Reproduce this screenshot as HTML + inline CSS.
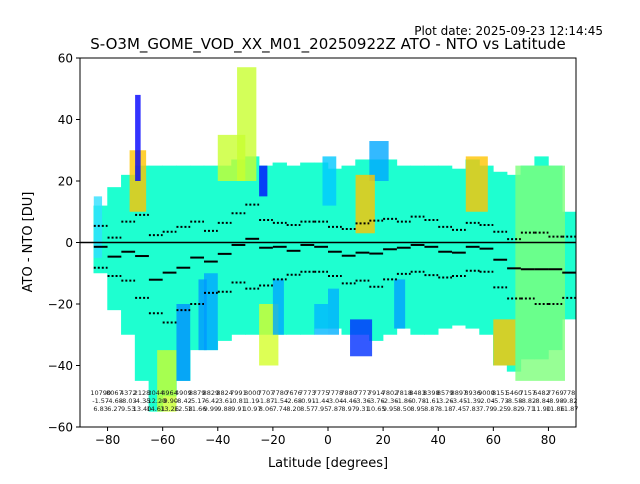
<!DOCTYPE html>
<html><head><meta charset="utf-8">
<style>
body{margin:0;background:#fff;width:640px;height:480px;overflow:hidden;font-family:"DejaVu Sans","Liberation Sans",sans-serif;}
svg text{font-family:"DejaVu Sans","Liberation Sans",sans-serif;}
</style></head>
<body>
<svg id="chart" width="640" height="480" viewBox="0 0 640 480">
  <rect x="0" y="0" width="640" height="480" fill="#fff"/>
  <text x="603" y="35" font-size="12" text-anchor="end">Plot date: 2025-09-23 12:14:45</text>
  <text x="328" y="49" font-size="15" text-anchor="middle">S-O3M_GOME_VOD_XX_M01_20250922Z ATO - NTO vs Latitude</text>
  <g id="plot"></g>
  <g id="axes"></g>
  <text x="328" y="467" font-size="13" text-anchor="middle">Latitude [degrees]</text>
  <text x="32" y="242" font-size="13" text-anchor="middle" transform="rotate(-90 32 242)">ATO - NTO [DU]</text>
</svg>
<script>
const binCenters=[-82.5,-77.5,-72.5,-67.5,-62.5,-57.5,-52.5,-47.5,-42.5,-37.5,-32.5,-27.5,-22.5,-17.5,-12.5,-7.5,-2.5,2.5,7.5,12.5,17.5,22.5,27.5,32.5,37.5,42.5,47.5,52.5,57.5,62.5,67.5,72.5,77.5,82.5,87.5];
const medians=[-1.4,-4.6,-3.0,-4.4,-12.1,-9.8,-8.2,-4.9,-6.2,-3.7,-0.8,1.2,-1.7,-1.4,-2.7,-0.8,-1.4,-3.0,-4.3,-3.3,-3.6,-2.2,-1.7,-0.8,-1.4,-3.0,-3.3,-1.4,-2.0,-5.6,-8.4,-8.7,-8.7,-8.7,-9.8];
const upperPct=[5.4,1.6,6.8,9.0,2.4,3.5,5.1,6.8,3.8,6.4,9.5,12.3,7.3,6.4,5.7,6.8,6.8,5.1,4.4,6.2,7.1,7.7,6.8,8.4,7.3,5.1,4.1,6.4,5.7,3.5,1.1,3.2,3.2,1.9,1.9];
const lowerPct=[-8.2,-10.9,-12.4,-18.0,-23.0,-26.0,-22.0,-20.0,-16.4,-16.0,-13.0,-15.0,-14.0,-12.0,-10.5,-9.5,-9.5,-10.9,-13.3,-12.4,-14.4,-12.0,-10.2,-9.5,-10.6,-11.4,-10.9,-9.2,-9.5,-14.6,-18.2,-18.2,-20.0,-20.0,-18.0];
const cloudTop=[12,18,22,25,25,25,25,25,25,25,27,28,25,26,25,26,26,24,25,27,27,27,25,25,25,25,24,27,25,23,22,25,28,25,10];
const cloudBottom=[-10,-22,-30,-45,-55,-50,-45,-35,-35,-32,-30,-30,-30,-30,-30,-30,-28,-28,-30,-30,-32,-30,-28,-30,-30,-28,-27,-28,-30,-40,-42,-38,-38,-35,-25];
const counts=[10790,8067,4372,2128,3044,4964,4909,8879,8829,8824,7991,8000,7707,7780,7676,7773,7775,7778,7880,7777,7914,7802,7818,8483,8398,8579,8897,8936,9000,8151,5460,7157,6482,7769,778];
const means=[-1.57,-4.68,-8.03,-4.35,-12.29,-9.90,-8.42,-5.17,-6.42,-3.61,-0.81,1.19,-1.87,-1.54,-2.68,-0.91,-1.44,-3.04,-4.46,-3.36,-3.76,-2.36,-1.86,-0.78,-1.61,-3.26,-3.45,-1.39,-2.04,-5.73,-8.58,-8.82,-8.84,-8.98,-9.82];
const stds=[6.83,6.27,9.53,13.40,14.61,13.26,12.58,11.66,9.99,9.88,9.91,10.97,8.06,7.74,8.20,8.57,7.95,7.87,8.97,9.31,10.65,9.95,8.50,8.95,8.87,8.18,7.45,7.83,7.79,9.25,9.82,9.71,11.90,11.86,11.87];
const clusterLatLo=[-72,-70,-33,-40,15,10,50,68,-62,60,8,-25,-25,-55,-45,-85,-5,-47,-20,0,24,-2];
const clusterLatHi=[-66,-68,-26,-30,22,17,58,86,-55,68,16,-18,-22,-50,-40,-82,0,-44,-16,4,28,3];
const clusterLo=[10,20,20,20,20,3,10,-45,-55,-40,-37,-40,15,-45,-35,-5,-30,-35,-30,-30,-28,12];
const clusterHi=[30,48,57,35,33,22,28,25,-35,-25,-25,-20,25,-20,-10,15,-20,-12,-12,-15,-12,28];
const clusterColor=["#ffc400","#0000ff","#c8ff30","#c8ff30","#00a8ff","#ffc400","#ffc400","#7dff7a","#c8ff30","#ffc400","#0030ff","#d4ff2a","#0010ff","#0090ff","#00a8ff","#30e0ff","#00b8ff","#0098ff","#00a8ff","#00b0ff","#00a0ff","#00c8ff"];
const xTicks=[-80,-60,-40,-20,0,20,40,60,80];
const yTicks=[60,40,20,0,-20,-40,-60];

const NS="http://www.w3.org/2000/svg";
const L=80,R=576,T=58,B=427;
function xs(lat){return L+(lat+90)*(R-L)/180;}
function ys(v){return 242.5-v*3.075;}
const plot=document.getElementById('plot');
const axes=document.getElementById('axes');
function mk(tag,attrs,parent){const e=document.createElementNS(NS,tag);for(const k in attrs)e.setAttribute(k,attrs[k]);parent.appendChild(e);return e;}

binCenters.forEach((c,i)=>{
  const r=mk('rect',{x:xs(c-2.6),y:ys(cloudTop[i]),width:xs(c+2.6)-xs(c-2.6),height:ys(cloudBottom[i])-ys(cloudTop[i]),fill:'#1effd0'},plot);
  
  
});
clusterLatLo.forEach((lo,i)=>{
  const r=mk('rect',{x:xs(lo),y:ys(clusterHi[i]),width:xs(clusterLatHi[i])-xs(lo),height:ys(clusterLo[i])-ys(clusterHi[i]),fill:clusterColor[i],opacity:0.8},plot);
  
  
});
const z=mk('line',{x1:L,x2:R,y1:ys(0),y2:ys(0),stroke:'#000','stroke-width':1.5},plot);


binCenters.forEach((c,i)=>{
  const m=mk('line',{x1:xs(c-2.5),x2:xs(c+2.5),y1:ys(medians[i]),y2:ys(medians[i]),stroke:'#000','stroke-width':2},plot);
  
  
  const u=mk('line',{x1:xs(c-2.5),x2:xs(c+2.5),y1:ys(upperPct[i]),y2:ys(upperPct[i]),stroke:'#000','stroke-width':2,'stroke-dasharray':'2 2'},plot);
  
  
  const lw=mk('line',{x1:xs(c-2.5),x2:xs(c+2.5),y1:ys(lowerPct[i]),y2:ys(lowerPct[i]),stroke:'#000','stroke-width':2,'stroke-dasharray':'2 2'},plot);
  
  
  const rows=[String(counts[i]),means[i].toFixed(2),stds[i].toFixed(2)];
  rows.forEach((s,k)=>{
    const t=mk('text',{x:xs(c),y:395+k*8,'font-size':6.5,'text-anchor':'middle',fill:'#222'},plot);
    t.textContent=s;
    
    
  });
});
const f=mk('rect',{x:L,y:T,width:R-L,height:B-T,fill:'none',stroke:'#000','stroke-width':1},axes);


xTicks.forEach(v=>{
  const l=mk('line',{x1:xs(v),x2:xs(v),y1:B,y2:B+4,stroke:'#000'},axes);
  
  
  const t=mk('text',{x:xs(v),y:B+17,'font-size':12,'text-anchor':'middle'},axes);
  t.textContent=(v<0?'\u2212':'')+Math.abs(v);
  
  
});
yTicks.forEach(v=>{
  const l=mk('line',{x1:L-4,x2:L,y1:ys(v),y2:ys(v),stroke:'#000'},axes);
  
  
  const t=mk('text',{x:L-7,y:ys(v)+4.5,'font-size':12,'text-anchor':'end'},axes);
  t.textContent=(v<0?'\u2212':'')+Math.abs(v);
  
  
});
</script>
</body></html>
